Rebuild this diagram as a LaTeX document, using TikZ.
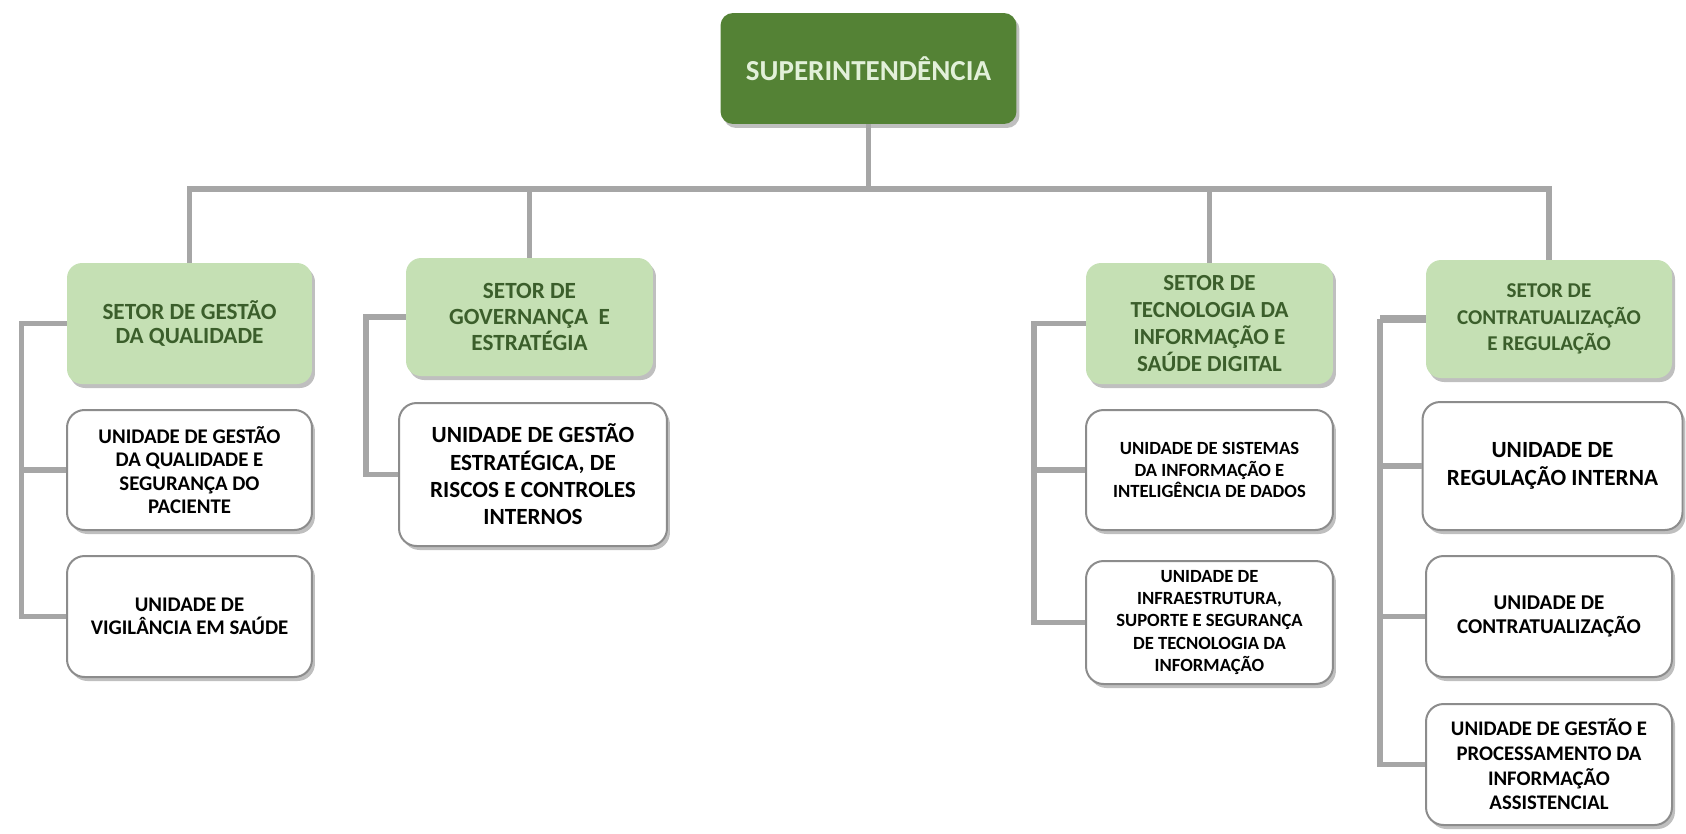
\documentclass[tikz,border=0pt]{standalone}
\usepackage{fontspec}
\setmainfont{Carlito}
\usetikzlibrary{shadows}
\definecolor{supgreen}{HTML}{548235}
\definecolor{suptext}{HTML}{E2F0D9}
\definecolor{setorfill}{HTML}{C5E0B4}
\definecolor{setortext}{HTML}{3B5E2B}
\definecolor{linkgray}{HTML}{A6A6A6}
\definecolor{unitedge}{HTML}{8C8C8C}

\begin{document}
\begin{tikzpicture}[x=0.02cm, y=-0.02cm,
    link/.style={line width=0.11cm, linkgray},
    softshadow/.style={drop shadow={shadow xshift=0.06cm, shadow yshift=-0.08cm, fill=black!50, opacity=0.5}},
    supbox/.style={fill=supgreen, text=suptext, rounded corners=0.25cm, minimum width=5.92cm, minimum height=2.22cm, softshadow},
    setorbox/.style={fill=setorfill, text=setortext, rounded corners=0.3cm, align=center, softshadow},
    unitbox/.style={fill=white, draw=unitedge, line width=0.04cm, rounded corners=0.35cm, align=center, softshadow},
    txt/.style 2 args={font=\bfseries\fontsize{#1}{#2}\selectfont}]
    \useasboundingbox (0,0) rectangle (1686,833);

    % topo
    \node[supbox, txt={16.5}{18}] (sup) at (868.5,68.5) {SUPERINTENDÊNCIA};

    % setores
    \node[setorbox, minimum width=4.9cm, minimum height=2.42cm, txt={13.2}{13.4}] (sq) at (189.5,323.5) {SETOR DE GESTÃO\\DA QUALIDADE};
    \node[setorbox, minimum width=4.94cm, minimum height=2.36cm, txt={13.2}{14.6}] (sg) at (529.5,317) {SETOR DE\\GOVERNANÇA~ E\\ESTRATÉGIA};
    \node[setorbox, minimum width=4.94cm, minimum height=2.42cm, txt={13.1}{15.3}] (st) at (1209.5,323.5) {SETOR DE\\TECNOLOGIA DA\\INFORMAÇÃO E\\SAÚDE DIGITAL};
    \node[setorbox, minimum width=4.92cm, minimum height=2.36cm, txt={12}{14.9}] (sc) at (1549,319) {SETOR DE\\CONTRATUALIZAÇÃO\\E REGULAÇÃO};

    % unidades
    \node[unitbox, minimum width=4.9cm, minimum height=2.4cm, txt={11.85}{13.4}] (uq1) at (189.5,470) {UNIDADE DE GESTÃO\\DA QUALIDADE E\\SEGURANÇA DO\\PACIENTE};
    \node[unitbox, minimum width=4.9cm, minimum height=2.42cm, txt={11.85}{13.4}] (uq2) at (189.5,616.5) {UNIDADE DE\\VIGILÂNCIA EM SAÚDE};
    \node[unitbox, minimum width=5.36cm, minimum height=2.86cm, txt={13.2}{15.6}] (ug1) at (533,474.5) {UNIDADE DE GESTÃO\\ESTRATÉGICA, DE\\RISCOS E CONTROLES\\INTERNOS};
    \node[unitbox, minimum width=4.94cm, minimum height=2.4cm, txt={10.6}{12.2}] (ut1) at (1209.5,470) {UNIDADE DE SISTEMAS\\DA INFORMAÇÃO E\\INTELIGÊNCIA DE DADOS};
    \node[unitbox, minimum width=4.94cm, minimum height=2.46cm, txt={10.6}{12.8}] (ut2) at (1209.5,622.5) {UNIDADE DE\\INFRAESTRUTURA,\\SUPORTE E SEGURANÇA\\DE TECNOLOGIA DA\\INFORMAÇÃO};
    \node[unitbox, minimum width=5.2cm, minimum height=2.56cm, txt={13.2}{15.9}] (uc1) at (1552.5,466) {UNIDADE DE\\REGULAÇÃO INTERNA};
    \node[unitbox, minimum width=4.92cm, minimum height=2.42cm, txt={12}{14}] (uc2) at (1549,616.5) {UNIDADE DE\\CONTRATUALIZAÇÃO};
    \node[unitbox, minimum width=4.92cm, minimum height=2.42cm, txt={11.8}{14}] (uc3) at (1549,764.5) {UNIDADE DE GESTÃO E\\PROCESSAMENTO DA\\INFORMAÇÃO\\ASSISTENCIAL};

    % barra principal
    \coordinate (bar) at (0,189);
    \draw[link] (sup.south) -- (sup.south |- bar);
    \draw[link] (sq.north) -- (sq.north |- bar) -- (sc.north |- bar) -- (sc.north);
    \draw[link] (sg.north) -- (sg.north |- bar);
    \draw[link] (st.north) -- (st.north |- bar);

    % ramais laterais
    \coordinate (lq) at (21.5,0);
    \coordinate (lg) at (366,0);
    \coordinate (lt) at (1034,0);
    \coordinate (lc) at (1380,0);
    \draw[link] (sq.west) -- (sq.west -| lq) |- (uq2.west);
    \draw[link] (uq1.west) -- (uq1.west -| lq);
    \draw[link] (sg.west) -- (sg.west -| lg) |- (ug1.west);
    \draw[link] (st.west) -- (st.west -| lt) |- (ut2.west);
    \draw[link] (ut1.west) -- (ut1.west -| lt);
    \draw[link, line width=0.16cm] (sc.west) -- (sc.west -| lc);
    \draw[link] (sc.west -| lc) |- (uc3.west);
    \draw[link] (uc1.west) -- (uc1.west -| lc);
    \draw[link] (uc2.west) -- (uc2.west -| lc);
\end{tikzpicture}
\end{document}
